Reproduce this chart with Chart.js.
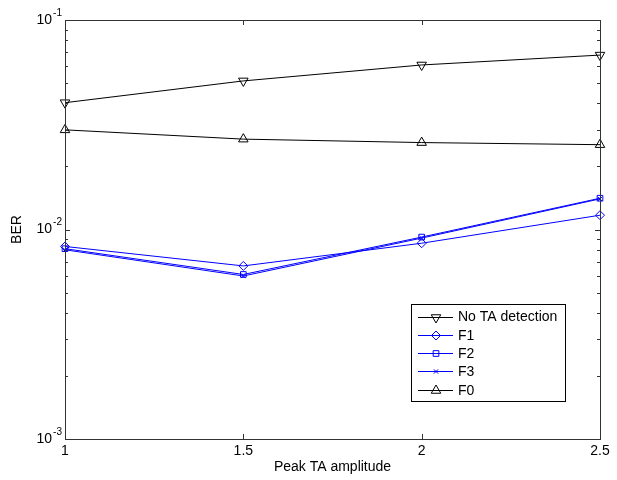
<!DOCTYPE html>
<html>
<head>
<meta charset="utf-8">
<script src="https://cdn.jsdelivr.net/npm/chart.js@4"></script>
<style>
  html, body { margin: 0; padding: 0; background: #fff; }
  #wrap { width: 617px; height: 480px; position: relative; }
</style>
</head>
<body>
<div id="wrap"><canvas id="berChart"></canvas></div>
<script>
// peak TA amplitude
const amplitude = [1, 1.5, 2, 2.5]
const xTicks = [1, 1.5, 2, 2.5]
const yTicks = [0.001, 0.01, 0.1]
const yTickExp = ['-3', '-2', '-1']

// BER values
const noTA = [0.0403, 0.0512, 0.0610, 0.0680]
const f1 = [0.0083, 0.0067, 0.0086, 0.0117]
const f2 = [0.0081, 0.0061, 0.0092, 0.0141]
const f3 = [0.0080, 0.0060, 0.0091, 0.0140]
const f0 = [0.0299, 0.0270, 0.0260, 0.0254]

const seriesNames = ['No TA detection', 'F1', 'F2', 'F3', 'F0']

const FONT = '"Liberation Sans", Arial, sans-serif'

function toPoints (ys) {
  return ys.map((y, i) => ({ x: amplitude[i], y: y }))
}

function makeSet (label, ys, color, style, radius, rotation) {
  return {
    label: label,
    data: toPoints(ys),
    borderColor: color,
    borderWidth: 1,
    pointStyle: style,
    pointRadius: radius,
    pointRotation: rotation || 0,
    pointBorderColor: color,
    pointBackgroundColor: 'rgba(0,0,0,0)',
    pointBorderWidth: 1,
    tension: 0,
    clip: false
  }
}

const datasets = [
  makeSet(seriesNames[0], noTA, '#000', 'triangle', 5.5, 180),
  makeSet(seriesNames[1], f1, '#0000ff', 'rectRot', 4.5),
  makeSet(seriesNames[2], f2, '#0000ff', 'rect', 4),
  makeSet(seriesNames[3], f3, '#0000ff', 'crossRot', 3),
  makeSet(seriesNames[4], f0, '#000', 'triangle', 5.5)
]

// draws the axis box, inside ticks, labels and the legend like a MATLAB figure
const matlabAxes = {
  id: 'matlabAxes',
  afterDraw (chart) {
    const ctx = chart.ctx
    const a = chart.chartArea
    const xs = chart.scales.x
    const ys = chart.scales.y
    ctx.save()
    ctx.strokeStyle = '#333'
    ctx.lineWidth = 1
    ctx.strokeRect(a.left + 0.5, a.top + 0.5, a.right - a.left, a.bottom - a.top)

    ctx.beginPath()
    xTicks.forEach(t => {
      const px = Math.round(xs.getPixelForValue(t)) + 0.5
      ctx.moveTo(px, a.bottom); ctx.lineTo(px, a.bottom - 5)
      ctx.moveTo(px, a.top); ctx.lineTo(px, a.top + 5)
    })
    for (let d = -3; d < 0; d++) {
      for (let m = 1; m <= 9; m++) {
        const v = m * Math.pow(10, d)
        const py = Math.round(ys.getPixelForValue(v)) + 0.5
        const len = m === 1 ? 5 : 3
        ctx.moveTo(a.left, py); ctx.lineTo(a.left + len, py)
        ctx.moveTo(a.right, py); ctx.lineTo(a.right - len, py)
      }
    }
    ctx.stroke()

    ctx.fillStyle = '#000'
    ctx.font = '14px ' + FONT
    ctx.textAlign = 'center'
    ctx.textBaseline = 'top'
    xTicks.forEach(t => {
      ctx.fillText(String(t), xs.getPixelForValue(t), a.bottom + 5)
    })

    yTicks.forEach((t, i) => {
      const yy = ys.getPixelForValue(t)
      ctx.font = '10px ' + FONT
      ctx.textAlign = 'left'
      ctx.textBaseline = 'middle'
      const ew = ctx.measureText(yTickExp[i]).width
      const ex = a.left - 3 - ew
      ctx.fillText(yTickExp[i], ex, yy - 7)
      ctx.font = '14px ' + FONT
      ctx.textAlign = 'right'
      ctx.fillText('10', ex - 1, yy)
    })

    ctx.font = '14px ' + FONT
    ctx.textAlign = 'center'
    ctx.textBaseline = 'middle'
    ctx.fillText('Peak TA amplitude', (a.left + a.right) / 2, 467)
    ctx.save()
    ctx.translate(17, (a.top + a.bottom) / 2)
    ctx.rotate(-Math.PI / 2)
    ctx.fillText('BER', 0, 0)
    ctx.restore()

    // legend box
    const lx = 411
    const ly = 304
    const lw = 154
    const lh = 97
    ctx.fillStyle = '#fff'
    ctx.fillRect(lx, ly, lw, lh)
    ctx.strokeStyle = '#000'
    ctx.strokeRect(lx + 0.5, ly + 0.5, lw, lh)
    chart.data.datasets.forEach((ds, i) => {
      const cy = ly + 12.5 + i * 18.3
      ctx.strokeStyle = ds.borderColor
      ctx.lineWidth = 1
      ctx.beginPath()
      ctx.moveTo(418, Math.round(cy) + 0.5)
      ctx.lineTo(453, Math.round(cy) + 0.5)
      ctx.stroke()
      ctx.fillStyle = 'rgba(0,0,0,0)'
      Chart.helpers.drawPoint(ctx, {
        pointStyle: ds.pointStyle,
        radius: ds.pointRadius,
        rotation: ds.pointRotation,
        borderWidth: 1
      }, 436, Math.round(cy) + 0.5)
      ctx.fillStyle = '#000'
      ctx.font = '14px ' + FONT
      ctx.textAlign = 'left'
      ctx.textBaseline = 'middle'
      ctx.fillText(ds.label, 458, cy + 1)
    })
    ctx.restore()
  }
}

new Chart(document.getElementById('berChart').getContext('2d'), {
  type: 'line',
  data: { datasets: datasets },
  options: {
    responsive: true,
    maintainAspectRatio: false,
    animation: false,
    layout: { padding: { left: 65, top: 20, right: 17, bottom: 41 } },
    plugins: {
      legend: { display: false },
      tooltip: { enabled: false }
    },
    scales: {
      x: { type: 'linear', min: 1, max: 2.5, display: false },
      y: { type: 'logarithmic', min: 0.001, max: 0.1, display: false }
    }
  },
  plugins: [matlabAxes]
})
</script>
</body>
</html>
